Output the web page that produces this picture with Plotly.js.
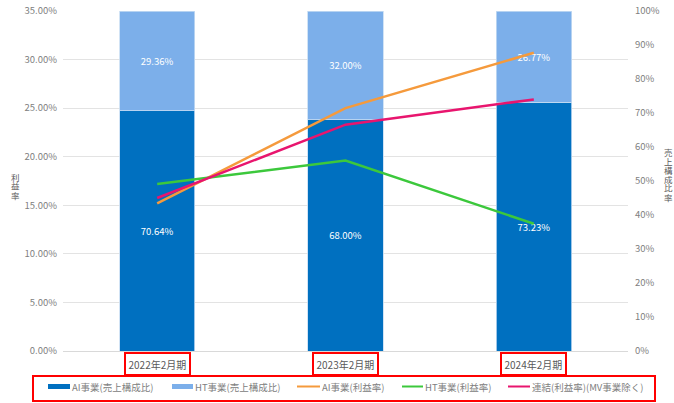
<!DOCTYPE html>
<html><head><meta charset="utf-8">
<script src="https://cdn.plot.ly/plotly-3.0.1.min.js"></script>
<style>html,body{margin:0;padding:0;background:#fff}#chart{width:674px;height:403px}</style>
</head><body><div id="chart"></div>
<script>
var categories = ['2022年2月期', '2023年2月期', '2024年2月期'];
var aiShare = [70.64, 68.00, 73.23];
var htShare = [29.36, 32.00, 26.77];
var aiMargin = [15.2, 25.0, 30.7];
var htMargin = [17.2, 19.6, 13.1];
var consMargin = [15.75, 23.3, 25.9];
var seriesNames = ['AI事業(売上構成比)', 'HT事業(売上構成比)', 'AI事業(利益率)', 'HT事業(利益率)', '連結(利益率)(MV事業除く)'];
var seriesColors = ['#0070C0', '#7CAFEA', '#F59A3C', '#3CC83C', '#E8156E'];
var leftTitle = '利益率';
var rightTitle = '売上構成比率';

var font = "'Noto Sans CJK JP', 'Noto Sans', sans-serif";
var gray = '#808080';

// plot-area geometry (px) for converting legend/title placement to paper coords
var L = 63, R = 46, T = 11, B = 52, W = 674, H = 403;
var PW = W - L - R, PH = H - T - B;
function px(x){ return (x - L) / PW; }
function py(y){ return (H - B - y) / PH; }

var traces = [
  {type:'bar', x:categories, y:aiShare, name:seriesNames[0], yaxis:'y',
   marker:{color:seriesColors[0], line:{color:'#c5dcf2', width:0.8}},
   texttemplate:'%{y:.2f}%', textposition:'inside', insidetextanchor:'middle',
   textfont:{color:'#ffffff', size:9.5, family:font}, hoverinfo:'skip'},
  {type:'bar', x:categories, y:htShare, name:seriesNames[1], yaxis:'y',
   marker:{color:seriesColors[1], line:{color:'#c5dcf2', width:0.8}},
   texttemplate:'%{y:.2f}%', textposition:'inside', insidetextanchor:'middle',
   textfont:{color:'#ffffff', size:9.5, family:font}, hoverinfo:'skip'},
  {type:'scatter', mode:'lines', x:categories, y:aiMargin, name:seriesNames[2], yaxis:'y2',
   line:{color:seriesColors[2], width:2.5}},
  {type:'scatter', mode:'lines', x:categories, y:htMargin, name:seriesNames[3], yaxis:'y2',
   line:{color:seriesColors[3], width:2.5}},
  {type:'scatter', mode:'lines', x:categories, y:consMargin, name:seriesNames[4], yaxis:'y2',
   line:{color:seriesColors[4], width:2.5}}
];

var annotations = categories.map(function(c){
  return {x:c, xref:'x', y:0, yref:'paper', yanchor:'top', yshift:-1, text:c, showarrow:false,
    font:{size:10, color:'#595959', family:font}, bordercolor:'#ff0000', borderwidth:2, borderpad:2.5};
});
// vertical axis titles, one character per line
leftTitle.split('').forEach(function(ch, i){
  annotations.push({x:px(15), xref:'paper', xanchor:'center', y:py(176.5 + i*9), yref:'paper', yanchor:'middle',
    text:ch, showarrow:false, font:{size:8.5, color:'#595959', family:font}, borderpad:0});
});
rightTitle.split('').forEach(function(ch, i){
  annotations.push({x:px(668), xref:'paper', xanchor:'center', y:py(151.5 + i*9), yref:'paper', yanchor:'middle',
    text:ch, showarrow:false, font:{size:8.5, color:'#595959', family:font}, borderpad:0});
});

// custom legend row
var legendY = 386.5;
var legendItems = [
  {kind:'rect', x0:48, x1:70, tx:71},
  {kind:'rect', x0:172, x1:193, tx:194},
  {kind:'line', x0:297, x1:320, tx:321},
  {kind:'line', x0:402, x1:423, tx:424},
  {kind:'line', x0:508, x1:530, tx:531}
];
var shapes = [{type:'rect', xref:'paper', yref:'paper', x0:px(33), x1:px(655), y0:py(376), y1:py(401),
  line:{color:'#ff0000', width:2}, fillcolor:'rgba(0,0,0,0)'}];
legendItems.forEach(function(it, i){
  if (it.kind === 'rect') {
    shapes.push({type:'rect', xref:'paper', yref:'paper', x0:px(it.x0), x1:px(it.x1), y0:py(legendY+2.5), y1:py(legendY-2.5),
      line:{width:0}, fillcolor:seriesColors[i]});
  } else {
    shapes.push({type:'line', xref:'paper', yref:'paper', x0:px(it.x0), x1:px(it.x1), y0:py(legendY), y1:py(legendY),
      line:{color:seriesColors[i], width:2}});
  }
  annotations.push({x:px(it.tx), xref:'paper', xanchor:'left', y:py(legendY), yref:'paper', yanchor:'middle',
    text:seriesNames[i], showarrow:false, font:{size:9.5, color:gray, family:font}, borderpad:0});
});

var layout = {
  width:W, height:H,
  margin:{l:L, r:R, t:T, b:B},
  paper_bgcolor:'#ffffff', plot_bgcolor:'rgba(0,0,0,0)',
  font:{family:font, color:gray, size:10},
  barmode:'stack', bargap:0.6,
  showlegend:false,
  xaxis:{showticklabels:false, ticks:'', showline:true, linecolor:'#d9d9d9', linewidth:1, showgrid:false},
  yaxis:{side:'right', range:[0,100], dtick:10, ticksuffix:'%', showgrid:false, zeroline:false,
    tickfont:{size:9.5, color:gray}, ticks:'', ticklabelstandoff:6, automargin:false},
  yaxis2:{overlaying:'y', side:'left', range:[0,35], dtick:5, tickformat:'.2f', ticksuffix:'%',
    showgrid:true, gridcolor:'#e3e3e3', gridwidth:1, zeroline:false,
    tickfont:{size:9.5, color:gray}, ticks:'', ticklabelstandoff:5, automargin:false},
  annotations:annotations,
  shapes:shapes
};

Plotly.newPlot('chart', traces, layout, {displayModeBar:false, staticPlot:true});
</script></body></html>
